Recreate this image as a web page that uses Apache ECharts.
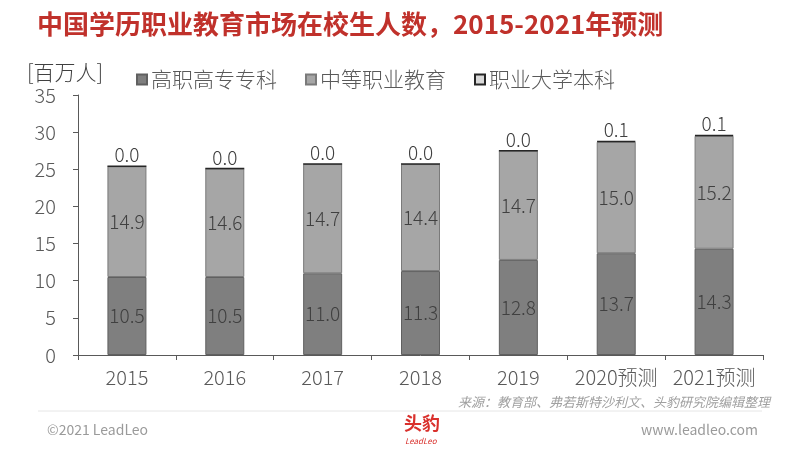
<!DOCTYPE html>
<html>
<head>
<meta charset="utf-8">
<script src="https://cdn.jsdelivr.net/npm/echarts@6/dist/echarts.min.js"></script>
<style>
  html, body { margin: 0; padding: 0; background: #fff; }
  #chart { width: 800px; height: 450px; }
</style>
</head>
<body>
<div id="chart"></div>
<script>
// 数据
var years = ['2015', '2016', '2017', '2018', '2019', '2020预测', '2021预测'];
var gaozhi = [10.5, 10.5, 11.0, 11.3, 12.8, 13.7, 14.3];     // 高职高专专科
var zhongzhi = [14.9, 14.6, 14.7, 14.4, 14.7, 15.0, 15.2];   // 中等职业教育
var benke = [0.0, 0.0, 0.0, 0.0, 0.0, 0.1, 0.1];             // 职业大学本科
var yTicks = [0, 5, 10, 15, 20, 25, 30, 35];

var myChart = echarts.init(document.getElementById('chart'));
var font = '"Noto Sans CJK SC", "Noto Sans", sans-serif';
var fmt = function (p) { return p.value.toFixed(1); };

var option = {
  backgroundColor: '#fff',
  textStyle: { fontFamily: font, fontWeight: 300 },
  title: {
    text: '中国学历职业教育市场在校生人数，2015-2021年预测',
    left: 32, top: 6,
    textStyle: { color: '#c0312b', fontSize: 26, fontWeight: 'bold', fontFamily: font }
  },
  legend: {
    left: 131, top: 64,
    itemWidth: 10, itemHeight: 10, itemGap: 28,
    icon: 'rect',
    textStyle: { color: '#595959', fontSize: 21, fontFamily: font, fontWeight: 300, padding: [0, 0, 0, -1] },
    data: ['高职高专专科', '中等职业教育', '职业大学本科']
  },
  grid: { left: 78, right: 37, top: 95, bottom: 95 },
  xAxis: {
    type: 'category',
    data: years,
    axisLine: { lineStyle: { color: '#595959' } },
    axisTick: { show: true, alignWithLabel: false, length: 5, lineStyle: { color: '#595959' } },
    axisLabel: { color: '#595959', fontSize: 20, fontWeight: 300, margin: 12, interval: 0 }
  },
  yAxis: {
    type: 'value',
    min: yTicks[0], max: yTicks[yTicks.length - 1], interval: 5,
    splitLine: { show: false },
    axisLine: { show: true, lineStyle: { color: '#595959' } },
    axisTick: { show: true, length: 5, lineStyle: { color: '#595959' } },
    axisLabel: { color: '#595959', fontSize: 20, fontWeight: 300, margin: 22 }
  },
  series: [
    {
      name: '高职高专专科', type: 'bar', stack: 'a', barWidth: 39,
      data: gaozhi,
      itemStyle: { color: '#7f7f7f', borderColor: '#606060', borderWidth: 1 },
      label: { show: true, position: 'inside', formatter: fmt, color: '#404040', fontSize: 19, fontWeight: 300 }
    },
    {
      name: '中等职业教育', type: 'bar', stack: 'a',
      data: zhongzhi,
      itemStyle: { color: '#a6a6a6', borderColor: '#7a7a7a', borderWidth: 1 },
      label: { show: true, position: 'inside', formatter: fmt, color: '#404040', fontSize: 19, fontWeight: 300 }
    },
    {
      name: '职业大学本科', type: 'bar', stack: 'a',
      data: benke,
      itemStyle: { color: '#d9d9d9', borderColor: '#262626', borderWidth: 1.5 },
      label: { show: true, position: 'top', formatter: fmt, color: '#404040', fontSize: 19, fontWeight: 300, distance: 1 }
    }
  ],
  graphic: [
    {
      type: 'text', left: 27, top: 62,
      style: { text: '[百万人]', fill: '#404040', font: '300 21px ' + font }
    },
    {
      type: 'text', right: 30, top: 396,
      style: { text: '来源：教育部、弗若斯特沙利文、头豹研究院编辑整理', fill: '#a0a0a0', font: 'italic 13px ' + font }
    },
    {
      type: 'line', shape: { x1: 38, y1: 411, x2: 762, y2: 411 },
      style: { stroke: '#e6e6e6', lineWidth: 1 }
    },
    {
      type: 'text', left: 47, top: 423,
      style: { text: '©2021 LeadLeo', fill: '#9a9a9a', font: '14px ' + font }
    },
    {
      type: 'text', right: 42, top: 423,
      style: { text: 'www.leadleo.com', fill: '#9a9a9a', font: '14px ' + font }
    },
    {
      type: 'text', left: 404, top: 414,
      style: { text: '头豹', fill: '#d9302c', font: 'bold 18px ' + font }
    },
    {
      type: 'text', left: 405, top: 437,
      style: { text: 'LeadLeo', fill: '#d9302c', font: 'italic 8px ' + font }
    }
  ]
};
myChart.setOption(option);
</script>
</body>
</html>
